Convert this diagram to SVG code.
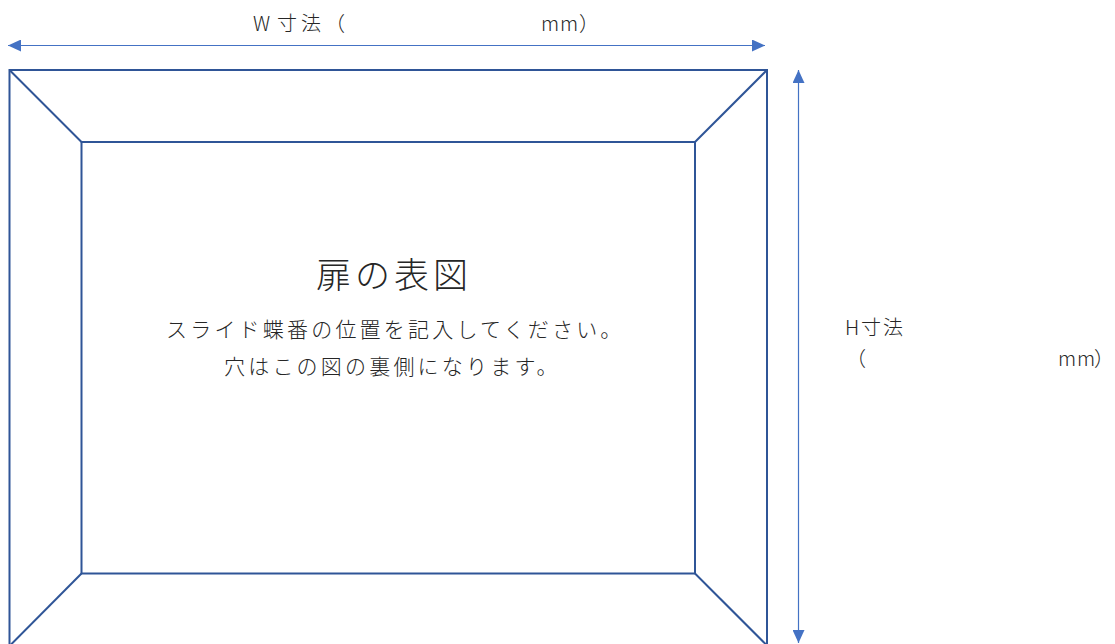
<svg xmlns="http://www.w3.org/2000/svg" width="1115" height="644" viewBox="0 0 1115 644">
  <style>
    .frame { fill: none; stroke: #2F5597; stroke-width: 2; stroke-linejoin: miter; }
    .dim { fill: none; stroke: #4472C4; stroke-width: 1.2; }
    .t { font-family: "Noto Sans CJK JP", "Noto Sans", sans-serif; font-weight: 300; fill: #262626; }
    .lbl { font-size: 20px; }
    .body { font-size: 21px; letter-spacing: 3.2px; }
    .title { font-size: 35px; letter-spacing: 4px; }
  </style>
  <defs>
    <marker id="arrow" viewBox="0 0 13 12" refX="13" refY="6" markerWidth="13" markerHeight="12" markerUnits="userSpaceOnUse" orient="auto-start-reverse">
      <path d="M0,0 L13,6 L0,12 Z" fill="#4472C4"/>
    </marker>
  </defs>
  <rect width="1115" height="644" fill="#ffffff"/>

  <g id="door-frame">
    <rect class="frame" x="9.5" y="70" width="757.5" height="576"/>
    <rect class="frame" x="81.5" y="142" width="613.5" height="431.5"/>
    <line class="frame" x1="9.5" y1="70" x2="81.5" y2="142"/>
    <line class="frame" x1="767" y1="70" x2="695" y2="142"/>
    <line class="frame" x1="9.5" y1="646" x2="81.5" y2="573.5"/>
    <line class="frame" x1="767" y1="645.5" x2="695" y2="573.5"/>
  </g>

  <g id="door-text">
    <text class="t title" x="316" y="288">扉の表図</text>
    <text class="t body" x="166" y="337">スライド蝶番の位置を記入してください。</text>
    <text class="t body" x="224" y="374">穴はこの図の裏側になります。</text>
  </g>

  <g id="connectors">
    <line class="dim" x1="8" y1="45.5" x2="765" y2="45.5" marker-start="url(#arrow)" marker-end="url(#arrow)"/>
    <line class="dim" x1="798.5" y1="70" x2="798.5" y2="643" marker-start="url(#arrow)" marker-end="url(#arrow)"/>
  </g>

  <g id="w-label">
    <text class="t lbl" x="253 277 301 325" y="31">W寸法（</text>
    <text class="t lbl" x="541 560 579" y="31">mm）</text>
  </g>

  <g id="h-label">
    <text class="t lbl" x="845 861 883" y="335">H寸法</text>
    <text class="t lbl" x="846" y="366">（</text>
    <text class="t lbl" x="1058 1077 1094" y="366">mm）</text>
  </g>
</svg>
